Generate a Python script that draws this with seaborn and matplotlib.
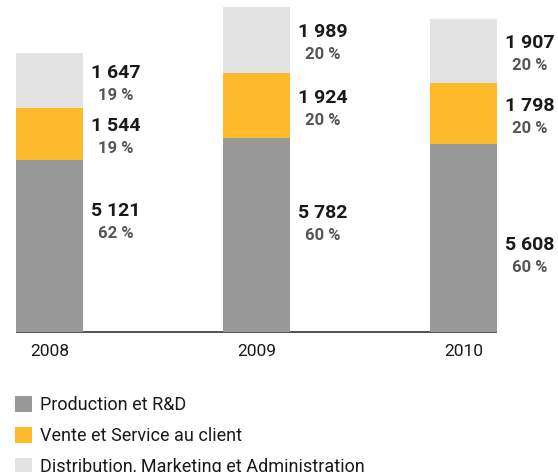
import numpy as np
import pandas as pd
import matplotlib
matplotlib.use("Agg")
import matplotlib.pyplot as plt
import seaborn as sns
from matplotlib.patches import Patch

years = ["2008", "2009", "2010"]
production = [5121, 5782, 5608]
vente = [1544, 1924, 1798]
distribution = [1647, 1989, 1907]
pct_production = ["62 %", "60 %", "60 %"]
pct_vente = ["19 %", "20 %", "20 %"]
pct_distribution = ["19 %", "20 %", "20 %"]
series_names = ["Production et R&D", "Vente et Service au client",
                "Distribution, Marketing et Administration"]

colors = ["#999999", "#FDBB2B", "#E3E3E3"]

sns.set_theme(style="white")
plt.rcParams["font.family"] = ["Roboto", "DejaVu Sans"]

fig = plt.figure(figsize=(5.58, 4.72), dpi=100)
ax = fig.add_axes([0, 140 / 472, 1, 332 / 472])

prod = np.array(production)
ven = np.array(vente)
dist = np.array(distribution)
c1 = prod
c2 = prod + ven
c3 = prod + ven + dist

df = pd.DataFrame({"year": years, "c1": c1, "c2": c2, "c3": c3})
W = 0.324
for col, color in [("c3", colors[2]), ("c2", colors[1]), ("c1", colors[0])]:
    sns.barplot(data=df, x="year", y=col, color=color, width=W, ax=ax,
                saturation=1, edgecolor="none", linewidth=0, zorder=3)

ax.set_xlim(-49.5 / 207, (558 - 49.5) / 207)
ymax = 332 / 0.03357
ax.set_ylim(0, ymax)
ax.plot([-W / 2, 2 + W / 2], [0, 0], color="#222222", lw=1.1, zorder=2,
        solid_capstyle="butt", clip_on=False)
ax.axis("off")

px = ymax / 332.0  # data units per pixel
gray_shift = [-24, -11, 18]  # px, layout tweak for gray-segment labels
lx_off = 0.322
def fmt(v):
    return f"{v:,}".replace(",", " ")

for i in range(3):
    segs = [
        (c1[i] / 2, production[i], pct_production[i], gray_shift[i]),
        ((c1[i] + c2[i]) / 2, vente[i], pct_vente[i], 3),
        ((c2[i] + c3[i]) / 2, distribution[i], pct_distribution[i], 3),
    ]
    for yc, val, pct, sh in segs:
        yc = yc - sh * px
        ax.text(i + lx_off, yc + 11 * px, fmt(val), ha="center", va="center",
                fontsize=14, fontweight="bold", color="#1a1a1a")
        ax.text(i + lx_off, yc - 11.5 * px, pct, ha="center", va="center",
                fontsize=12, fontweight="bold", color="#555555")
    ax.text(i, -20 * px, years[i], ha="center", va="center",
            fontsize=12.5, color="#1a1a1a", clip_on=False)

handles = [Patch(facecolor=c, edgecolor="none") for c in colors]
fig.legend(handles, series_names, loc="upper left",
           bbox_to_anchor=(8 / 558, 1 - 389 / 472), frameon=False,
           fontsize=13, handlelength=0.95, handleheight=0.95,
           handletextpad=0.45, labelspacing=0.72, borderaxespad=0,
           labelcolor="#1a1a1a")

fig.savefig("out.png", dpi=100)
